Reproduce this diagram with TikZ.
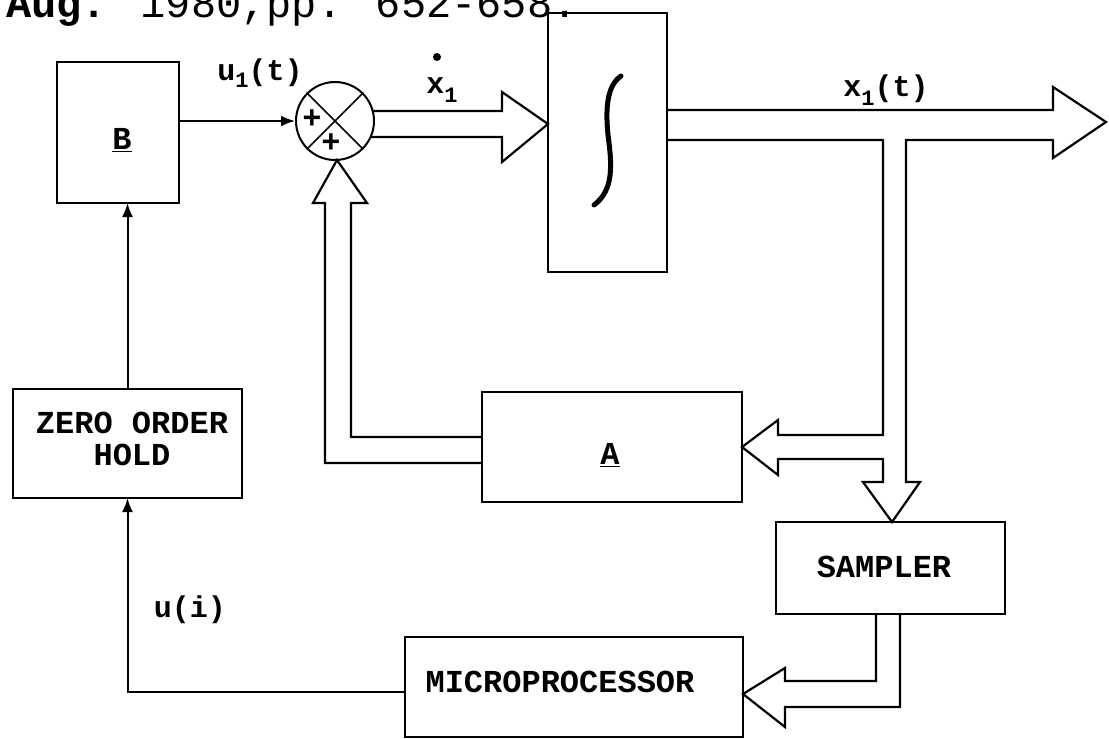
\documentclass[tikz,border=0pt]{standalone}
\usepackage{fontspec}
\setmainfont{Liberation Mono}
\usetikzlibrary{arrows.meta}
\begin{document}
\begin{tikzpicture}[x=1pt,y=-1pt,
  box/.style={draw, line width=2pt, inner sep=0pt, outer sep=0pt},
  lbl/.style={inner sep=0pt, font=\fontsize{32}{32}\selectfont\bfseries},
  lbls/.style={inner sep=0pt, font=\fontsize{30}{30}\selectfont\bfseries},
  thinarrow/.style={line width=2pt, -{Latex[length=14pt,width=11pt]}},
  fat/.style={line width=2.2pt, line join=miter}
]
\useasboundingbox (0,0) rectangle (1109,739);
\newcommand{\subone}[1]{\raisebox{#1}{\fontsize{22}{22}\selectfont 1}}

% header (cropped at top as in the scan)
\node[anchor=base west, inner sep=0pt, font=\fontsize{42}{42}\selectfont] (hdr) at (6,17) {\textbf{Aug.} 1980,pp. 652-658.};

% blocks
\node[box, minimum width=122, minimum height=141] (B) at (118,132.5) {};
\node[box, minimum width=119, minimum height=259] (Int) at (607.5,142.5) {};
\node[box, minimum width=260, minimum height=110] (A) at (612,447) {};
\node[box, minimum width=229, minimum height=109] (ZOH) at (127.5,443.5) {};
\node[box, minimum width=229, minimum height=92] (SAM) at (890.5,568) {};
\node[box, minimum width=338, minimum height=100] (MP) at (574,687) {};

% block texts
\node[lbl] (Blbl) at (122,140) {\underline{B}};
\node[lbl] (Albl) at (610,455) {\underline{A}};
\node[lbl, align=center] (ZOHlbl) at (132,439) {ZERO ORDER\\HOLD};
\node[lbl] (SAMlbl) at (884,567) {SAMPLER};
\node[lbl] (MPlbl) at (560,682) {MICROPROCESSOR};

% integral sign
\draw[line width=5pt, line cap=round] (621,76) .. controls (608,85) and (605,105) .. (608,135) .. controls (612,165) and (614,190) .. (594,205);

% summing junction
\node[draw, circle, line width=2pt, minimum size=78, inner sep=0pt] (S) at (335,121) {};
\draw[line width=1.6pt] (S.north west) -- (S.south east);
\draw[line width=1.6pt] (S.north east) -- (S.south west);
\node[lbl] (p1) at (312,119) {+};
\node[lbl] (p2) at (331,143) {+};

% thin connectors
\draw[thinarrow] (B.east |- S.west) -- (S.west);
\draw[thinarrow] (ZOH.north) -- (ZOH.north |- B.south);
\coordinate (mpin) at (405,692);
\draw[thinarrow] (mpin) -- (mpin -| ZOH.south) -- (ZOH.south);

% fat arrows
\draw[fat] (373,111) -- (502,111) -- (502,92) -- (548,124) -- (502,162) -- (502,137) -- (371,137);
\draw[fat] (667,110) -- (1053,110) -- (1053,87) -- (1106,122) -- (1053,158) -- (1053,140)
  -- (906,140) -- (906,482) -- (920,482) -- (892,522) -- (863,482) -- (883,482)
  -- (883,459) -- (778,459) -- (778,475) -- (742,447) -- (778,420) -- (778,435)
  -- (883,435) -- (883,140) -- (667,140);
\draw[fat] (482,437) -- (351,437) -- (351,203) -- (367,203) -- (337,160) -- (313,203) -- (325,203) -- (325,463) -- (482,463);
\draw[fat] (876,614) -- (876,681) -- (785,681) -- (785,668) -- (743,694) -- (785,727) -- (785,707) -- (900,707) -- (900,614);

% signal labels
\node[lbls] (u1) at (260,73) {u\subone{-7pt}(t)};
\node[lbls] (xd) at (442,90) {x\subone{-9pt}};
\fill (437,57) circle (4);
\node[lbls] (x1) at (886,90) {x\subone{-9pt}(t)};
\node[lbls] (ui) at (190,610) {u(i)};
\end{tikzpicture}
\end{document}
